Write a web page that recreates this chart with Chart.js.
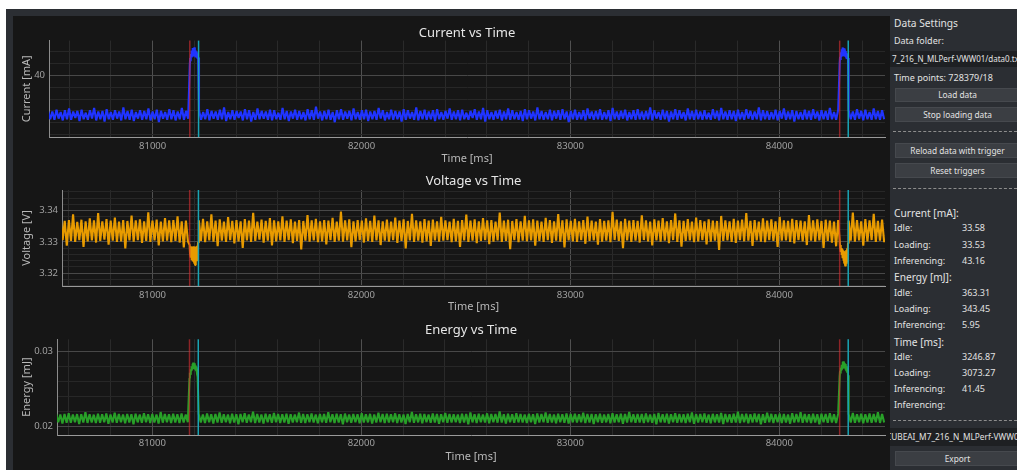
<!DOCTYPE html>
<html>
<head>
<meta charset="utf-8">
<script src="https://cdn.jsdelivr.net/npm/chart.js@4.4.1/dist/chart.umd.min.js"></script>
<style>
  html, body { margin: 0; padding: 0; width: 1017px; height: 470px; overflow: hidden; background: #ffffff; font-family: "Noto Sans", sans-serif; }
  #frame { position: absolute; left: 6px; top: 9px; width: 1011px; height: 461px; background: #2b2e33; }
  #plots { position: absolute; left: 13px; top: 16px; width: 877px; height: 454px; background: #161616; }
  canvas.cv { position: absolute; left: 13px; }
  .txt { position: absolute; color: #e2e2e2; white-space: nowrap; font-size: 9px; line-height: 12px; }
  .hdr { font-size: 10.2px; line-height: 14px; }
  .btn { position: absolute; left: 895px; width: 125px; box-sizing: border-box; background: #3b3e43; border: 1px solid #46494e; color: #e2e2e2; font-size: 8.3px; text-align: center; white-space: nowrap; }
  .field { position: absolute; left: 890px; width: 130px; background: #1e2023; color: #e2e2e2; font-size: 8px; white-space: nowrap; overflow: hidden; }
  .sep { position: absolute; left: 893px; width: 124px; height: 0; border-top: 1px dashed #8d8d8d; }
</style>
</head>
<body>
<div id="frame"></div>
<div id="plots"></div>
<canvas id="cCurrent" class="cv" width="877" height="149" style="top:16px"></canvas>
<canvas id="cVoltage" class="cv" width="877" height="148" style="top:165px"></canvas>
<canvas id="cEnergy" class="cv" width="877" height="150" style="top:313px"></canvas>

<!-- settings panel -->
<div class="txt hdr" style="left:894px;top:16px">Data Settings</div>
<div class="txt" style="left:894px;top:35px">Data folder:</div>
<div class="field" style="top:51px;height:16px;line-height:16px;padding-left:2px;box-sizing:border-box">7_216_N_MLPerf-VWW01/data0.txt</div>
<div class="txt" style="left:894px;top:72px">Time points: 728379/18</div>
<div class="btn" style="top:88px;height:14px;line-height:12px">Load data</div>
<div class="btn" style="top:107px;height:15px;line-height:13px">Stop loading data</div>
<div class="sep" style="top:131px"></div>
<div class="btn" style="top:143px;height:15px;line-height:13px">Reload data with trigger</div>
<div class="btn" style="top:163px;height:15px;line-height:13px">Reset triggers</div>
<div class="sep" style="top:188px"></div>

<div class="txt hdr" style="left:894px;top:206px">Current [mA]:</div>
<div class="txt" style="left:894px;top:222px">Idle:</div><div class="txt" style="left:962px;top:222px">33.58</div>
<div class="txt" style="left:894px;top:239px">Loading:</div><div class="txt" style="left:962px;top:239px">33.53</div>
<div class="txt" style="left:894px;top:255px">Inferencing:</div><div class="txt" style="left:962px;top:255px">43.16</div>
<div class="txt hdr" style="left:894px;top:270px">Energy [mJ]:</div>
<div class="txt" style="left:894px;top:287px">Idle:</div><div class="txt" style="left:962px;top:287px">363.31</div>
<div class="txt" style="left:894px;top:303px">Loading:</div><div class="txt" style="left:962px;top:303px">343.45</div>
<div class="txt" style="left:894px;top:319px">Inferencing:</div><div class="txt" style="left:962px;top:319px">5.95</div>
<div class="txt hdr" style="left:894px;top:335px">Time [ms]:</div>
<div class="txt" style="left:894px;top:351px">Idle:</div><div class="txt" style="left:962px;top:351px">3246.87</div>
<div class="txt" style="left:894px;top:367px">Loading:</div><div class="txt" style="left:962px;top:367px">3073.27</div>
<div class="txt" style="left:894px;top:383px">Inferencing:</div><div class="txt" style="left:962px;top:383px">41.45</div>
<div class="txt" style="left:894px;top:399px">Inferencing:</div>
<div class="sep" style="top:420px"></div>
<div class="field" style="top:428px;height:18px;line-height:18px;text-indent:-4px;font-size:8.3px">CUBEAI_M7_216_N_MLPerf-VWW01</div>
<div class="btn" style="top:451px;height:15px;line-height:13px">Export</div>

<script>
// ---- acquisition timing -------------------------------------------------
const SAMPLE_MS = 10;          // idle stretch resolution
const BURST_SAMPLE_MS = 2;     // inference burst resolution
const idleStartMs = [80500, 81222, 84332];
const triggerStartMs = [81178, 84289];
const triggerEndMs = [81220, 84330];

// ---- tick labels ----------------------------------------------------------
const timeTickLabels = [81000, 82000, 83000, 84000];
const currentTickLabels = [40];
const voltageTickLabels = [3.32, 3.33, 3.34];
const energyTickLabels = [0.02, 0.03];

// ---- current [mA] ---------------------------------------------------------
const currentIdleA = [34.0,32.6,33.9,32.5,34.2,32.7,33.8,32.4,34.1,32.6,34.4,32.5,33.9,32.8,34.0,32.3,34.2,32.6,33.7,32.5,34.1,32.7,34.5,32.4,33.9,32.6,34.0,32.2,34.3,32.6,33.8,32.5,34.1,32.7,33.9,32.4,34.6,32.6,34.0,32.5,34.2,32.3,33.8,32.7,34.1,32.5,34.0,32.6,34.4,32.4,33.9,32.6,34.2,32.1,34.0,32.7,33.8,32.5,34.3,32.6,34.1,32.4,33.9,32.6,34.5,32.5,34.0,32.7];
const currentBurstA = [41.8,42.9,42.4,43.6,43.0,44.2,43.3,44.6,43.4,44.5,43.2,44.7,43.3,44.2,43.0,44.0,43.1,43.8,42.9,43.6,43.0];
const currentIdleB = [
34.1,32.5,33.8,32.6,34.3,32.4,34.0,32.7,33.9,32.5, 34.2,32.6,34.6,32.3,33.8,32.6,34.1,32.5,34.0,32.8,
33.9,32.4,34.3,32.6,34.1,32.2,33.8,32.5,34.4,32.6, 34.0,32.7,33.9,32.5,34.2,32.4,34.1,32.6,33.7,32.5,
34.5,32.6,34.0,32.3,33.9,32.7,34.2,32.5,34.0,32.6, 33.8,32.4,34.3,32.6,34.1,32.5,34.7,32.7,33.9,32.4,
34.0,32.6,34.2,32.5,33.8,32.1,34.1,32.6,34.3,32.5, 33.9,32.7,34.0,32.4,34.4,32.6,33.8,32.5,34.1,32.6,
34.2,32.3,33.9,32.6,34.0,32.5,34.5,32.7,34.1,32.4, 33.8,32.6,34.2,32.5,34.0,32.6,33.9,32.2,34.3,32.5,
34.1,32.7,33.8,32.5,34.6,32.4,34.0,32.6,34.2,32.5, 33.9,32.6,34.1,32.3,34.3,32.6,33.8,32.5,34.0,32.7,
34.4,32.5,33.9,32.6,34.1,32.4,34.2,32.6,33.7,32.5, 34.0,32.8,34.3,32.5,33.9,32.6,34.5,32.2,34.1,32.6,
33.8,32.5,34.0,32.7,34.2,32.4,33.9,32.6,34.4,32.5, 34.1,32.6,33.8,32.5,34.0,32.3,34.3,32.6,34.1,32.7,
33.9,32.4,34.6,32.6,34.0,32.5,33.8,32.6,34.2,32.4, 34.0,32.7,34.1,32.5,34.3,32.6,33.9,32.1,34.0,32.6,
34.2,32.5,33.8,32.6,34.1,32.4,34.4,32.7,33.9,32.5, 34.0,32.6,34.3,32.5,33.8,32.6,34.1,32.3,34.5,32.6,
33.9,32.5,34.0,32.7,34.2,32.4,33.8,32.6,34.1,32.5, 34.3,32.6,33.9,32.5,34.0,32.6,34.6,32.4,34.1,32.7,
33.8,32.5,34.2,32.6,34.0,32.2,33.9,32.6,34.3,32.5, 34.1,32.7,33.8,32.4,34.4,32.6,34.0,32.5,34.2,32.6,
33.9,32.5,34.1,32.6,33.7,32.5,34.3,32.7,34.0,32.4, 34.5,32.6,33.9,32.5,34.1,32.6,34.0,32.3,34.2,32.6,
33.8,32.5,34.3,32.7,34.0,32.5,33.9,32.6,34.6,32.4, 34.1,32.6,34.0,32.5,33.8,32.6,34.2,32.4,34.0,32.7,
34.4,32.5,33.9,32.6,34.1,32.2,34.0,32.6,33.8,32.5, 34.2,32.6,34.0,32.5,34.3,32.7,33.9,32.4,34.1,32.6,
34.0,32.5,34.5,32.6,33.8,32.5,34.2];
const currentBurstB = [42.0,43.1,42.6,43.9,43.2,44.4,43.4,44.7,43.5,44.6,43.3,44.5,43.2,44.1,43.1,43.9,42.9,43.7,43.0,43.5,42.9];
const currentIdleC = [34.1,32.6,33.9,32.5,34.3,32.7,34.0,32.4,34.2,32.6,33.8,32.5,34.4,32.6,34.0,32.5,34.1,32.6];

// ---- voltage [V] ----------------------------------------------------------
const voltageIdleA = [
3.3368,3.3304,3.3372,3.3301,3.3365,3.3296,3.3380,3.3306,3.3367,3.3288,
3.3370,3.3303,3.3388,3.3300,3.3364,3.3306,3.3371,3.3284,3.3366,3.3302,
3.3375,3.3305,3.3369,3.3298,3.3392,3.3303,3.3366,3.3307,3.3373,3.3291,
3.3368,3.3304,3.3378,3.3300,3.3365,3.3302,3.3370,3.3279,3.3367,3.3305,
3.3384,3.3301,3.3369,3.3306,3.3372,3.3297,3.3366,3.3303,3.3395,3.3300,
3.3368,3.3305,3.3371,3.3289,3.3365,3.3302,3.3376,3.3304,3.3369,3.3299,
3.3370,3.3303,3.3382,3.3298,3.3366,3.3282,3.3368,3.3301];
const voltageBurstA = [3.3290,3.3262,3.3286,3.3250,3.3284,3.3242,3.3285,3.3238,3.3283,3.3236,3.3286,3.3232,3.3284,3.3226,3.3285,3.3236,3.3283,3.3238,3.3288,3.3240,3.3298];
const voltageIdleB = [
3.3369,3.3303,3.3374,3.3299,3.3366,3.3305,3.3388,3.3301,3.3368,3.3286,
3.3372,3.3304,3.3365,3.3300,3.3379,3.3306,3.3367,3.3295,3.3370,3.3302,
3.3366,3.3281,3.3373,3.3305,3.3368,3.3300,3.3393,3.3303,3.3365,3.3307,
3.3371,3.3298,3.3367,3.3304,3.3376,3.3289,3.3369,3.3302,3.3366,3.3305,
3.3382,3.3300,3.3368,3.3306,3.3372,3.3296,3.3365,3.3303,3.3370,3.3276,
3.3367,3.3304,3.3386,3.3301,3.3369,3.3305,3.3374,3.3299,3.3366,3.3302,
3.3370,3.3292,3.3368,3.3306,3.3377,3.3300,3.3365,3.3304,3.3397,3.3301,
3.3369,3.3305,3.3372,3.3283,3.3366,3.3302,3.3370,3.3306,3.3368,3.3298,
3.3375,3.3303,3.3367,3.3300,3.3384,3.3305,3.3369,3.3290,3.3366,3.3304,
3.3371,3.3301,3.3365,3.3306,3.3378,3.3297,3.3368,3.3303,3.3372,3.3279,
3.3367,3.3305,3.3390,3.3300,3.3369,3.3304,3.3366,3.3298,3.3373,3.3302,
3.3368,3.3287,3.3371,3.3305,3.3366,3.3301,3.3380,3.3304,3.3369,3.3306,
3.3365,3.3299,3.3374,3.3302,3.3367,3.3284,3.3370,3.3305,3.3387,3.3300,
3.3368,3.3304,3.3372,3.3296,3.3366,3.3303,3.3376,3.3306,3.3369,3.3293,
3.3370,3.3301,3.3365,3.3305,3.3394,3.3300,3.3368,3.3303,3.3371,3.3277,
3.3367,3.3306,3.3373,3.3299,3.3366,3.3304,3.3383,3.3302,3.3369,3.3305,
3.3372,3.3288,3.3368,3.3303,3.3365,3.3300,3.3377,3.3306,3.3370,3.3297,
3.3366,3.3304,3.3389,3.3301,3.3369,3.3282,3.3372,3.3305,3.3367,3.3302,
3.3374,3.3300,3.3366,3.3306,3.3370,3.3294,3.3381,3.3303,3.3368,3.3305,
3.3365,3.3291,3.3373,3.3301,3.3367,3.3304,3.3369,3.3299,3.3396,3.3306,
3.3371,3.3303,3.3366,3.3280,3.3374,3.3305,3.3368,3.3300,3.3370,3.3304,
3.3367,3.3298,3.3385,3.3306,3.3369,3.3302,3.3365,3.3289,3.3372,3.3305,
3.3368,3.3301,3.3376,3.3304,3.3366,3.3296,3.3370,3.3306,3.3391,3.3300,
3.3369,3.3285,3.3367,3.3303,3.3373,3.3305,3.3365,3.3299,3.3378,3.3302,
3.3370,3.3306,3.3366,3.3292,3.3372,3.3301,3.3368,3.3304,3.3367,3.3274,
3.3383,3.3303,3.3369,3.3305,3.3366,3.3300,3.3374,3.3297,3.3368,3.3306,
3.3371,3.3302,3.3392,3.3304,3.3367,3.3287,3.3370,3.3305,3.3365,3.3301,
3.3375,3.3299,3.3368,3.3306,3.3372,3.3303,3.3366,3.3284,3.3380,3.3304,
3.3369,3.3305,3.3367,3.3300,3.3374,3.3295,3.3370,3.3306,3.3368,3.3302,
3.3366,3.3290,3.3386,3.3304,3.3369,3.3301,3.3372,3.3305,3.3367,3.3281,
3.3371,3.3303,3.3368,3.3298,3.3365,3.3286,3.3370];
const voltageBurstB = [3.3304,3.3282,3.3290,3.3268,3.3280,3.3258,3.3276,3.3248,3.3272,3.3240,3.3270,3.3232,3.3268,3.3226,3.3270,3.3222,3.3274,3.3230,3.3280,3.3236,3.3296];
const voltageIdleC = [3.3368,3.3304,3.3394,3.3301,3.3370,3.3305,3.3366,3.3288,3.3373,3.3302,3.3369,3.3306,3.3390,3.3300,3.3367,3.3304,3.3371,3.3299];

// ---- energy [mJ] ----------------------------------------------------------
const energyIdleA = [
0.02162,0.02052,0.02158,0.02046,0.02170,0.02055,0.02160,0.02040,0.02166,0.02050,
0.02175,0.02048,0.02159,0.02056,0.02164,0.02031,0.02161,0.02052,0.02188,0.02047,
0.02163,0.02054,0.02157,0.02044,0.02168,0.02050,0.02162,0.02057,0.02171,0.02036,
0.02160,0.02053,0.02183,0.02049,0.02165,0.02055,0.02158,0.02042,0.02167,0.02051,
0.02162,0.02028,0.02169,0.02054,0.02160,0.02048,0.02177,0.02056,0.02163,0.02045,
0.02166,0.02052,0.02159,0.02039,0.02191,0.02050,0.02164,0.02055,0.02161,0.02047,
0.02168,0.02053,0.02162,0.02044,0.02173,0.02051,0.02160,0.02056];
const energyBurstA = [0.02640,0.02715,0.02690,0.02760,0.02740,0.02800,0.02765,0.02835,0.02780,0.02850,0.02770,0.02840,0.02765,0.02825,0.02755,0.02810,0.02740,0.02790,0.02700,0.02770,0.02660];
const energyIdleB = [
0.02165,0.02051,0.02159,0.02046,0.02172,0.02055,0.02161,0.02038,0.02167,0.02052,
0.02186,0.02048,0.02163,0.02056,0.02158,0.02043,0.02169,0.02053,0.02162,0.02030,
0.02166,0.02054,0.02174,0.02049,0.02160,0.02056,0.02195,0.02045,0.02164,0.02052,
0.02159,0.02040,0.02168,0.02055,0.02162,0.02050,0.02178,0.02057,0.02165,0.02047,
0.02161,0.02053,0.02170,0.02034,0.02163,0.02051,0.02158,0.02056,0.02184,0.02049,
0.02167,0.02044,0.02162,0.02055,0.02173,0.02052,0.02160,0.02041,0.02166,0.02054,
0.02164,0.02050,0.02189,0.02056,0.02161,0.02046,0.02169,0.02053,0.02163,0.02027,
0.02171,0.02055,0.02159,0.02049,0.02166,0.02057,0.02162,0.02043,0.02176,0.02052,
0.02163,0.02054,0.02167,0.02038,0.02160,0.02051,0.02181,0.02056,0.02165,0.02047,
0.02168,0.02053,0.02161,0.02055,0.02174,0.02045,0.02163,0.02052,0.02158,0.02033,
0.02166,0.02056,0.02192,0.02049,0.02162,0.02054,0.02169,0.02042,0.02164,0.02057,
0.02160,0.02050,0.02172,0.02053,0.02165,0.02036,0.02161,0.02055,0.02179,0.02048,
0.02167,0.02052,0.02163,0.02056,0.02159,0.02044,0.02170,0.02051,0.02166,0.02029,
0.02185,0.02054,0.02162,0.02047,0.02168,0.02055,0.02160,0.02052,0.02174,0.02041,
0.02164,0.02056,0.02166,0.02050,0.02199,0.02053,0.02163,0.02037,0.02169,0.02055,
0.02161,0.02049,0.02175,0.02054,0.02165,0.02052,0.02158,0.02045,0.02167,0.02056,
0.02162,0.02032,0.02171,0.02051,0.02164,0.02055,0.02187,0.02048,0.02166,0.02053,
0.02160,0.02043,0.02168,0.02056,0.02163,0.02050,0.02173,0.02039,0.02165,0.02054,
0.02169,0.02052,0.02161,0.02055,0.02182,0.02046,0.02164,0.02053,0.02167,0.02031,
0.02163,0.02056,0.02170,0.02049,0.02159,0.02054,0.02166,0.02042,0.02176,0.02052,
0.02162,0.02055,0.02168,0.02036,0.02165,0.02051,0.02193,0.02056,0.02161,0.02048,
0.02167,0.02053,0.02164,0.02044,0.02171,0.02055,0.02160,0.02050,0.02166,0.02028,
0.02180,0.02054,0.02163,0.02052,0.02169,0.02040,0.02162,0.02056,0.02174,0.02049,
0.02165,0.02053,0.02161,0.02047,0.02168,0.02055,0.02186,0.02035,0.02164,0.02052,
0.02166,0.02056,0.02172,0.02050,0.02160,0.02043,0.02167,0.02054,0.02163,0.02051,
0.02178,0.02033,0.02165,0.02055,0.02162,0.02049,0.02170,0.02053,0.02196,0.02046,
0.02164,0.02056,0.02168,0.02041,0.02161,0.02052,0.02173,0.02055,0.02166,0.02030,
0.02163,0.02050,0.02181,0.02054,0.02167,0.02047,0.02162,0.02056,0.02169,0.02044,
0.02165,0.02053,0.02160,0.02037,0.02175,0.02051,0.02164,0.02055,0.02188,0.02049,
0.02166,0.02054,0.02163,0.02046,0.02170,0.02052,0.02161,0.02029,0.02168,0.02055,
0.02164,0.02050,0.02177,0.02053,0.02162,0.02045,0.02167];
const energyBurstB = [0.02660,0.02740,0.02705,0.02785,0.02750,0.02820,0.02775,0.02860,0.02790,0.02865,0.02780,0.02845,0.02770,0.02830,0.02755,0.02815,0.02740,0.02800,0.02720,0.02780,0.02680];
const energyIdleC = [0.02165,0.02052,0.02179,0.02048,0.02163,0.02055,0.02168,0.02041,0.02162,0.02053,0.02171,0.02050,0.02166,0.02056,0.02190,0.02047,0.02164,0.02053];

// ---- assembling the time series ------------------------------------------
function buildSeries(idleParts, burstParts) {
  const pts = [];
  idleParts.forEach((part, k) => {
    part.forEach((v, i) => pts.push({ x: idleStartMs[k] + i * SAMPLE_MS, y: v }));
    if (k < burstParts.length) {
      burstParts[k].forEach((v, i) => pts.push({ x: triggerStartMs[k] + i * BURST_SAMPLE_MS, y: v }));
    }
  });
  return pts;
}

// grid positions: every multiple of `step` inside the axis range
function gridTicks(scale, step) {
  const out = [];
  const digits = Math.max(0, -Math.floor(Math.log10(step)) + 2);
  for (let v = Math.ceil(scale.min / step - 1e-9) * step; v <= scale.max + 1e-12; v += step) {
    out.push({ value: +v.toFixed(digits) });
  }
  scale.ticks = out;
}

// trigger markers: red = inference start, cyan = inference end
const triggerLines = {
  id: 'triggerLines',
  afterDatasetsDraw(chart) {
    const { ctx, chartArea: a, scales: { x } } = chart;
    ctx.save();
    ctx.lineWidth = 1.5;
    const draw = (t, color) => {
      const px = x.getPixelForValue(t);
      ctx.strokeStyle = color;
      ctx.beginPath();
      ctx.moveTo(px, a.top);
      ctx.lineTo(px, a.bottom);
      ctx.stroke();
    };
    triggerStartMs.forEach(t => draw(t, 'rgba(215,45,50,0.62)'));
    triggerEndMs.forEach(t => draw(t, '#19a4b4'));
    ctx.restore();
  }
};

Chart.defaults.font.family = '"Noto Sans", sans-serif';
Chart.defaults.devicePixelRatio = 1;

function makeChart(id, o) {
  const matchLabel = v => o.yLabels.find(l => Math.abs(l - v) < o.yStep / 10);
  return new Chart(document.getElementById(id), {
    type: 'line',
    data: {
      datasets: [{
        data: o.points,
        borderColor: o.color,
        borderWidth: 2.1,
        borderJoinStyle: 'bevel',
        pointRadius: 0,
        tension: 0,
        fill: false
      }]
    },
    options: {
      responsive: false,
      animation: false,
      events: [],
      parsing: false,
      normalized: true,
      layout: { padding: { top: 0, left: 0, right: 5, bottom: 0 } },
      plugins: {
        legend: { display: false },
        tooltip: { enabled: false },
        title: {
          display: true, text: o.title, color: '#e6e6e6', fullSize: false,
          font: { size: 13, weight: 'normal' },
          padding: { top: o.titleTop, bottom: o.titleBottom }
        }
      },
      scales: {
        x: {
          type: 'linear', min: o.xMin, max: 84506,
          afterBuildTicks: s => gridTicks(s, 200),
          afterFit: s => { s.height = o.xHeight; },
          border: { display: true, color: '#9a9a9a', width: 1 },
          grid: {
            drawTicks: false, lineWidth: 1,
            color: c => (c.tick && timeTickLabels.includes(Math.round(c.tick.value))) ? '#505050' : '#2a2a2a'
          },
          ticks: {
            autoSkip: false, maxRotation: 0,
            padding: o.xPad, color: '#a0a0a0', font: { size: 9.5 },
            callback: v => timeTickLabels.includes(Math.round(v)) ? String(Math.round(v)) : ''
          },
          title: { display: true, text: 'Time [ms]', color: '#b8b8b8', font: { size: 11 }, padding: { top: 0, bottom: 0 } }
        },
        y: {
          type: 'linear', min: o.yMin, max: o.yMax,
          afterBuildTicks: s => gridTicks(s, o.yStep),
          afterFit: s => { s.width = o.yWidth; },
          border: { display: true, color: '#8c8c8c', width: 1 },
          grid: {
            drawTicks: false, lineWidth: 1,
            color: c => (c.tick && matchLabel(c.tick.value) !== undefined) ? '#484848' : '#272727'
          },
          ticks: {
            autoSkip: false,
            padding: 4, color: '#a0a0a0', font: { size: 9.5 },
            callback: v => { const l = matchLabel(v); return l === undefined ? '' : String(l); }
          },
          title: { display: true, text: o.yTitle, color: '#b8b8b8', font: { size: 11 }, padding: { top: 7.7, bottom: 0 } }
        }
      }
    },
    plugins: [triggerLines]
  });
}

makeChart('cCurrent', {
  title: 'Current vs Time', yTitle: 'Current [mA]', color: 'rgb(32,52,255)',
  points: buildSeries([currentIdleA, currentIdleB, currentIdleC], [currentBurstA, currentBurstB]),
  xMin: 80504, yMin: 29.6, yMax: 45.85, yStep: 2, yLabels: currentTickLabels,
  yWidth: 36, xHeight: 28, xPad: 4, titleTop: 9, titleBottom: 0
});
makeChart('cVoltage', {
  title: 'Voltage vs Time', yTitle: 'Voltage [V]', color: 'rgb(232,155,0)',
  points: buildSeries([voltageIdleA, voltageIdleB, voltageIdleC], [voltageBurstA, voltageBurstB]),
  xMin: 80567, yMin: 3.3159, yMax: 3.3466, yStep: 0.002, yLabels: voltageTickLabels,
  yWidth: 49, xHeight: 27, xPad: 4, titleTop: 8.5, titleBottom: 0.9
});
makeChart('cEnergy', {
  title: 'Energy vs Time', yTitle: 'Energy [mJ]', color: 'rgb(40,160,40)',
  points: buildSeries([energyIdleA, energyIdleB, energyIdleC], [energyBurstA, energyBurstB]),
  xMin: 80544, yMin: 0.01886, yMax: 0.03159, yStep: 0.002, yLabels: energyTickLabels,
  yWidth: 44, xHeight: 28, xPad: 3, titleTop: 9.2, titleBottom: 1.5
});
</script>
</body>
</html>
